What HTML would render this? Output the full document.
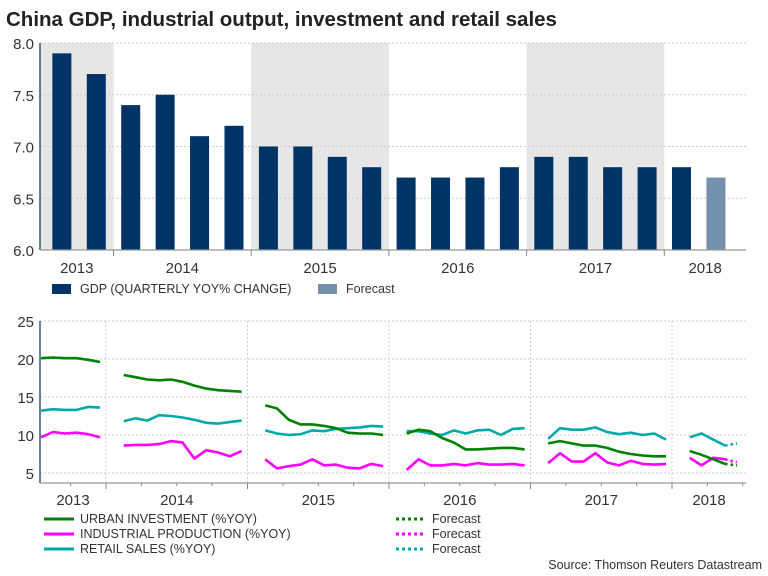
<!DOCTYPE html>
<html><head><meta charset="utf-8"><style>
body{margin:0;background:#fff;width:768px;height:576px;overflow:hidden}
svg{display:block;font-family:"Liberation Sans",Arial,sans-serif}
</style></head><body>
<svg id="c" width="768" height="576">
<text x="6" y="26" font-size="20.5" font-weight="bold" fill="#222">China GDP, industrial output, investment and retail sales</text>
<g id="topg"></g><g id="botg"></g>
<g>
<rect x="52" y="284" width="19" height="10" fill="#003366"/>
<text x="80" y="293" font-size="12.5" fill="#333">GDP (QUARTERLY YOY% CHANGE)</text>
<rect x="318" y="284" width="19" height="10" fill="#7590ac"/>
<text x="346" y="293" font-size="12.5" fill="#333">Forecast</text>
</g>
<g font-size="12.5" fill="#333">
<line x1="44" y1="519" x2="74" y2="519" stroke="#008000" stroke-width="3"/><text x="80" y="523">URBAN INVESTMENT (%YOY)</text>
<line x1="44" y1="534" x2="74" y2="534" stroke="#ff00ff" stroke-width="3"/><text x="80" y="538">INDUSTRIAL PRODUCTION (%YOY)</text>
<line x1="44" y1="549" x2="74" y2="549" stroke="#00aaaa" stroke-width="3"/><text x="80" y="553">RETAIL SALES (%YOY)</text>
<line x1="396" y1="519" x2="426" y2="519" stroke="#008000" stroke-width="3" stroke-dasharray="3,3"/><text x="432" y="523">Forecast</text>
<line x1="396" y1="534" x2="426" y2="534" stroke="#ff00ff" stroke-width="3" stroke-dasharray="3,3"/><text x="432" y="538">Forecast</text>
<line x1="396" y1="549" x2="426" y2="549" stroke="#00aaaa" stroke-width="3" stroke-dasharray="3,3"/><text x="432" y="553">Forecast</text>
<text x="762" y="569" text-anchor="end">Source: Thomson Reuters Datastream</text>
</g>
</svg>
<script>
// ---- top chart data ----
const gdpQuarters = ["2013Q3","2013Q4","2014Q1","2014Q2","2014Q3","2014Q4","2015Q1","2015Q2","2015Q3","2015Q4","2016Q1","2016Q2","2016Q3","2016Q4","2017Q1","2017Q2","2017Q3","2017Q4","2018Q1","2018Q2"];
const gdpValues = [7.9,7.7,7.4,7.5,7.1,7.2,7.0,7.0,6.9,6.8,6.7,6.7,6.7,6.8,6.9,6.9,6.8,6.8,6.8,6.7];
const gdpForecast = [false,false,false,false,false,false,false,false,false,false,false,false,false,false,false,false,false,false,false,true];
const topTicks = [6.0,6.5,7.0,7.5,8.0];
const years = [2013,2014,2015,2016,2017,2018];
// ---- bottom chart data (month index 1-12 per year) ----
const months2013 = [7,8,9,10,11,12];
const monthsOther = [2,3,4,5,6,7,8,9,10,11,12];
const months2018 = [2,3,4,5];
const urban = {2013:[20.1,20.2,20.1,20.1,19.9,19.6],2014:[17.9,17.6,17.3,17.2,17.3,17.0,16.5,16.1,15.9,15.8,15.7],2015:[13.9,13.5,12.0,11.4,11.4,11.2,10.9,10.3,10.2,10.2,10.0],2016:[10.2,10.7,10.5,9.6,9.0,8.1,8.1,8.2,8.3,8.3,8.1],2017:[8.9,9.2,8.9,8.6,8.6,8.3,7.8,7.5,7.3,7.2,7.2],2018:[7.9,7.4,6.8,6.2]};
const indprod = {2013:[9.7,10.4,10.2,10.3,10.1,9.7],2014:[8.6,8.7,8.7,8.8,9.2,9.0,6.9,8.0,7.7,7.2,7.9],2015:[6.8,5.6,5.9,6.1,6.8,6.0,6.1,5.7,5.6,6.2,5.9],2016:[5.4,6.8,6.0,6.0,6.2,6.0,6.3,6.1,6.1,6.2,6.0],2017:[6.3,7.6,6.5,6.5,7.6,6.4,6.0,6.6,6.2,6.1,6.2],2018:[7.0,6.0,7.0,6.8]};
const retail = {2013:[13.2,13.4,13.3,13.3,13.7,13.6],2014:[11.8,12.2,11.9,12.6,12.5,12.3,12.0,11.6,11.5,11.7,11.9],2015:[10.6,10.2,10.0,10.1,10.6,10.5,10.8,10.9,11.0,11.2,11.1],2016:[10.5,10.5,10.2,10.0,10.6,10.2,10.6,10.7,10.0,10.8,10.9],2017:[9.5,10.9,10.7,10.7,11.0,10.4,10.1,10.3,10.0,10.2,9.4],2018:[9.7,10.2,9.4,8.6]};
const forecastMonths = [5,6];
const urbanFc = [6.2,6.0];
const indprodFc = [6.8,6.4];
const retailFc = [8.6,8.9];
const botTicks = [5,10,15,20,25];

const NS="http://www.w3.org/2000/svg";
function mk(p,t,a){const e=document.createElementNS(NS,t);for(const k in a)e.setAttribute(k,a[k]);p.appendChild(e);return e;}
const T={x0:40,x1:746,y0:250,y1:43,ys:113.5-137.7,yw:137.7};
const ty=v=>T.y0-(v-6)/2*(T.y0-T.y1);
const tYearX=y=>T.ys+(y-2013)*T.yw;
const tq=s=>tYearX(+s.slice(0,4))+(+s.slice(5)-0.5)*T.yw/4;
const topG=document.getElementById('topg');
[2013,2015,2017].forEach(y=>{const a=Math.max(T.x0,tYearX(y)),b=Math.min(T.x1,tYearX(y+1));
const r=mk(topG,'rect',{x:a,y:T.y1,width:b-a,height:T.y0-T.y1,fill:'#e6e6e6'});

});
topTicks.forEach(v=>{mk(topG,'line',{x1:T.x0,x2:T.x1,y1:ty(v),y2:ty(v),stroke:'#ccc','stroke-dasharray':'2,2'});
const t=mk(topG,'text',{x:34,y:ty(v)+6,'text-anchor':'end','font-size':'15',fill:'#333'});t.textContent=v.toFixed(1);

});
gdpQuarters.forEach((q,i)=>{const cx=tq(q);const r=mk(topG,'rect',{x:cx-9.5,y:ty(gdpValues[i]),width:19,height:T.y0-ty(gdpValues[i]),fill:gdpForecast[i]?'#7590ac':'#003366'});

});
mk(topG,'line',{x1:T.x0,x2:T.x0,y1:T.y1,y2:T.y0,stroke:'#1f3a5f','stroke-width':1.3});
mk(topG,'line',{x1:T.x0,x2:T.x1,y1:T.y0,y2:T.y0,stroke:'#999','stroke-width':1.3});
years.forEach(y=>{const b=tYearX(y+1);if(b<T.x1)mk(topG,'line',{x1:b,x2:b,y1:T.y0,y2:T.y0+6,stroke:'#888'});
const a=Math.max(T.x0,tYearX(y)),c=Math.min(T.x1,b);
const t=mk(topG,'text',{x:(a+c)/2,y:273,'text-anchor':'middle','font-size':'15',fill:'#333'});t.textContent=y;

});
const B={x0:40,x1:746,y0:483,y1:321,ys:106-141.5,yw:141.5};
const by=v=>473-(v-5)*7.6;
const bYearX=y=>B.ys+(y-2013)*B.yw;
const bx=(y,m)=>bYearX(y)+(m-0.5)*B.yw/12;
const botG=document.getElementById('botg');
botTicks.forEach(v=>{mk(botG,'line',{x1:B.x0,x2:B.x1,y1:by(v),y2:by(v),stroke:'#ccc','stroke-dasharray':'2,2'});
const t=mk(botG,'text',{x:34,y:by(v)+6,'text-anchor':'end','font-size':'15',fill:'#333'});t.textContent=v;

});
years.forEach(y=>{const b=bYearX(y+1);if(b<B.x1){mk(botG,'line',{x1:b,x2:b,y1:B.y1,y2:B.y0,stroke:'#ccc','stroke-dasharray':'2,2'});mk(botG,'line',{x1:b,x2:b,y1:B.y0,y2:B.y0+6,stroke:'#888'});}
for(let q=1;q<4;q++){const x=bYearX(y)+q*B.yw/4;if(x>B.x0&&x<B.x1)mk(botG,'line',{x1:x,x2:x,y1:B.y0,y2:B.y0+3,stroke:'#888'});}
const a=Math.max(B.x0,bYearX(y)),c=Math.min(B.x1,b);
const t=mk(botG,'text',{x:(a+c)/2,y:505,'text-anchor':'middle','font-size':'15',fill:'#333'});t.textContent=y;

});
mk(botG,'line',{x1:B.x0,x2:B.x0,y1:B.y1,y2:B.y0,stroke:'#1f3a5f','stroke-width':1.3});
mk(botG,'line',{x1:B.x0,x2:B.x1,y1:B.y0,y2:B.y0,stroke:'#999','stroke-width':1.3});
function series(data,fc,col,name){years.forEach(y=>{const ms=y===2013?months2013:(y===2018?months2018:monthsOther);
const pts=data[y].map((v,i)=>bx(y,ms[i]).toFixed(1)+','+by(v).toFixed(1)).join(' ');
const p=mk(botG,'polyline',{points:pts,fill:'none',stroke:col,'stroke-width':2.6,'stroke-linejoin':'round'});

});
const fp=fc.map((v,i)=>bx(2018,forecastMonths[i]).toFixed(1)+','+by(v).toFixed(1)).join(' ');
const f=mk(botG,'polyline',{points:fp,fill:'none',stroke:col,'stroke-width':2.6,'stroke-dasharray':'2.5,3'});

}
series(retail,retailFc,'#00aaaa','retail-sales');
series(indprod,indprodFc,'#ff00ff','industrial-production');
series(urban,urbanFc,'#008000','urban-investment');
</script>
</body></html>
